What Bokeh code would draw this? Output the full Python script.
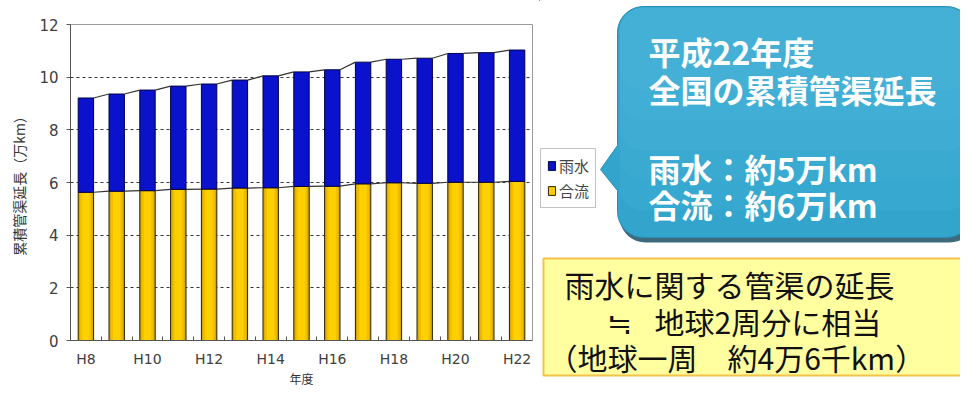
import math
from bokeh.plotting import figure
from bokeh.layouts import row, column
from bokeh.models import (Range1d, FixedTicker, Legend, LegendItem,
                          ColumnDataSource)
from bokeh.core.properties import value
from bokeh.embed import file_html
from bokeh.resources import INLINE

# ---------------- data ----------------
years = ["H8", "H9", "H10", "H11", "H12", "H13", "H14", "H15",
         "H16", "H17", "H18", "H19", "H20", "H21", "H22"]
combined = [5.63, 5.67, 5.69, 5.74, 5.75, 5.79, 5.80, 5.85,
            5.86, 5.95, 5.99, 5.97, 6.01, 6.01, 6.04]
rain = [3.58, 3.69, 3.82, 3.92, 3.99, 4.10, 4.25, 4.35,
        4.42, 4.62, 4.69, 4.75, 4.89, 4.92, 4.99]
y_ticks = [0, 2, 4, 6, 8, 10, 12]
shown_labels = ["H8", "H10", "H12", "H14", "H16", "H18", "H20", "H22"]
series_names = ["雨水", "合流"]

callout_lines = ["平成22年度", "全国の累積管渠延長", "雨水：約5万km", "合流：約6万km"]
note_line1 = "雨水に関する管渠の延長"
note_approx = "≒"
note_line2 = "地球2周分に相当"
note_line3 = "（地球一周　約4万6千km）"

# ---------------- layout ----------------
W, H = 960, 389
W1 = 539                       # width of the chart figure
FL, FR, FT, FB = 70, 532, 24, 340

JP = "Noto Sans CJK JP"
LAT = "DejaVu Sans"
YEL_DARK, YEL_MID, YEL_LIGHT = "#d9a800", "#f0c000", "#ffd000"
BLUE = "#0a12cc"

n = len(years)
xs = [i + 0.5 for i in range(n)]
total = [c + r for c, r in zip(combined, rain)]
src = ColumnDataSource(dict(x=xs, year=years, c=combined, r=rain, t=total,
                            zero=[0] * n))

p = figure(width=W1, height=H, x_range=Range1d(0, n), y_range=Range1d(0, 12),
           output_backend="svg", toolbar_location=None,
           min_border_left=FL, min_border_right=W1 - FR,
           min_border_top=FT, min_border_bottom=H - FB)
p.background_fill_color = "white"
p.border_fill_color = "white"
p.outline_line_color = "#9a9a9a"

# bars: combined (yellow, layered to mimic the gradient)
p.vbar(x="x", bottom="zero", top="c", width=0.5, source=src,
       fill_color=YEL_DARK, line_color=None)
p.vbar(x="x", bottom="zero", top="c", width=0.38, source=src,
       fill_color=YEL_MID, line_color=None)
p.vbar(x="x", bottom="zero", top="c", width=0.24, source=src,
       fill_color=YEL_LIGHT, line_color=None)
p.vbar(x="x", bottom="zero", top="c", width=0.5, source=src,
       fill_color=None, line_color="#2a2200", line_width=1)
# rain (blue)
p.vbar(x="x", bottom="c", top="t", width=0.5, source=src,
       fill_color=BLUE, line_color="#000044", line_width=1)

# series lines connecting bar tops
seg = ColumnDataSource(dict(
    x0=[x + 0.25 for x in xs[:-1]], x1=[x - 0.25 for x in xs[1:]],
    t0=total[:-1], t1=total[1:], c0=combined[:-1], c1=combined[1:]))
p.segment(x0="x0", y0="t0", x1="x1", y1="t1", source=seg,
          line_color="#333333", line_width=1.2)
p.segment(x0="x0", y0="c0", x1="x1", y1="c1", source=seg,
          line_color="#333333", line_width=1.2)

# axes
p.xgrid.visible = False
p.ygrid.ticker = FixedTicker(ticks=[t for t in y_ticks if 0 < t < 12])
p.ygrid.grid_line_color = "#333333"
p.ygrid.grid_line_dash = "3 3"
p.ygrid.grid_line_width = 1

p.yaxis.ticker = FixedTicker(ticks=y_ticks)
p.yaxis.major_tick_out = 4
p.yaxis.major_tick_in = 0
p.yaxis.minor_tick_line_color = None
p.yaxis.axis_line_color = "#555555"
p.yaxis.major_tick_line_color = "#555555"
p.yaxis.major_label_text_font = LAT
p.yaxis.major_label_text_font_size = "15px"
p.yaxis.major_label_text_color = "#404040"
p.yaxis.major_label_standoff = 8
p.yaxis.axis_label = "累積管渠延長（万km）"
p.yaxis.axis_label_text_font = JP
p.yaxis.axis_label_text_font_size = "14px"
p.yaxis.axis_label_text_font_style = "normal"
p.yaxis.axis_label_text_color = "#333333"
p.yaxis.axis_label_standoff = 7

major_x = [xs[years.index(l)] for l in shown_labels]
p.xaxis.ticker = FixedTicker(ticks=major_x, minor_ticks=list(range(1, n)))
p.xaxis.major_label_overrides = {x: l for x, l in zip(major_x, shown_labels)}
p.xaxis.major_tick_out = 0
p.xaxis.major_tick_in = 0
p.xaxis.minor_tick_in = 4
p.xaxis.minor_tick_out = 0
p.xaxis.minor_tick_line_color = "#555555"
p.xaxis.axis_line_color = "#555555"
p.xaxis.major_label_text_font = LAT
p.xaxis.major_label_text_font_size = "14px"
p.xaxis.major_label_text_color = "#404040"
p.xaxis.major_label_standoff = 10
p.xaxis.axis_label = "年度"
p.xaxis.axis_label_text_font = JP
p.xaxis.axis_label_text_font_size = "12px"
p.xaxis.axis_label_text_font_style = "normal"
p.xaxis.axis_label_text_color = "#333333"
p.xaxis.axis_label_standoff = 0

# ---------------- right-hand figure: legend + notes (pixel coordinates) ----------------
W2 = W - W1
q = figure(width=W2, height=H, x_range=Range1d(0, W2), y_range=Range1d(H, 0),
           output_backend="svg", toolbar_location=None,
           x_axis_type=None, y_axis_type=None,
           min_border=0, min_border_left=0, min_border_right=0,
           min_border_top=0, min_border_bottom=0)
q.grid.visible = False
q.outline_line_color = None
q.background_fill_color = "white"
q.border_fill_color = "white"


def px(x):
    return x - W1


def rounded_rect(x0, y0, x1, y1, r, pointer=None):
    pts = []
    corners = [(x1 - r, y0 + r, -90, 0), (x1 - r, y1 - r, 0, 90),
               (x0 + r, y1 - r, 90, 180), (x0 + r, y0 + r, 180, 270)]
    for k, (cx, cy, a0, a1) in enumerate(corners):
        for s in range(10):
            a = math.radians(a0 + (a1 - a0) * s / 9)
            pts.append((cx + r * math.cos(a), cy + r * math.sin(a)))
        if k == 2 and pointer is not None:
            pts.extend(pointer)
    return [px(x) for x, _ in pts], [y for _, y in pts]


# callout (blue speech bubble)
sx, sy = rounded_rect(619, 10, 975, 242, 26, [(619, 192), (602, 171), (619, 151)])
q.patch(sx, sy, fill_color="#1c5067", fill_alpha=0.85, line_color=None)
sx, sy = rounded_rect(617, 6, 972, 237, 26, [(617, 190), (600, 169), (617, 145)])
q.patch(sx, sy, fill_color="#33a5cd", line_color="#2a8db2", line_width=1)
for y1 in [210, 180, 150, 120, 90]:
    sx, sy = rounded_rect(619, 7, 970, y1, 24)
    q.patch(sx, sy, fill_color="#5fc6ec", fill_alpha=0.09, line_color=None)

q.text(x=[px(648)] * 4, y=[50, 88, 167, 203], text=callout_lines,
       text_font=value(JP), text_font_size="32px", text_font_style="bold",
       text_color="white", text_baseline="middle", text_align="left")

# yellow note box
q.quad(left=[px(543)], right=[px(990)], top=[258], bottom=[375],
       fill_color="#ffffa0", line_color="#f2c24a", line_width=2)
q.text(x=[px(564), px(606), px(654), px(547)], y=[283, 320, 320, 356],
       text=[note_line1, note_approx, note_line2, note_line3],
       text_font=value(JP), text_font_size="30px",
       text_color="#111111", text_baseline="middle", text_align="left")

# legend swatches (renderers placed outside the visible range, used only for the legend)
lg_rain = q.vbar(x=[-5000], bottom=[-5000], top=[-4990], width=1,
                 fill_color=BLUE, line_color="#000044")
lg_comb = q.vbar(x=[-5000], bottom=[-5000], top=[-4990], width=1,
                 fill_color="#ffc800", line_color="#2a2200")
legend = Legend(items=[LegendItem(label=series_names[0], renderers=[lg_rain]),
                       LegendItem(label=series_names[1], renderers=[lg_comb])],
                location=(1, H - 208))
legend.label_text_font = JP
legend.label_text_font_size = "15px"
legend.label_text_color = "#444444"
legend.glyph_width = 9
legend.glyph_height = 11
legend.label_height = 17
legend.label_standoff = 3
legend.spacing = 4
legend.padding = 6
legend.margin = 0
legend.border_line_color = "#888888"
legend.background_fill_alpha = 1
q.add_layout(legend, "center")

layout = row(column(p), column(q), spacing=0)
open("out.html", "w").write(file_html(layout, INLINE))
